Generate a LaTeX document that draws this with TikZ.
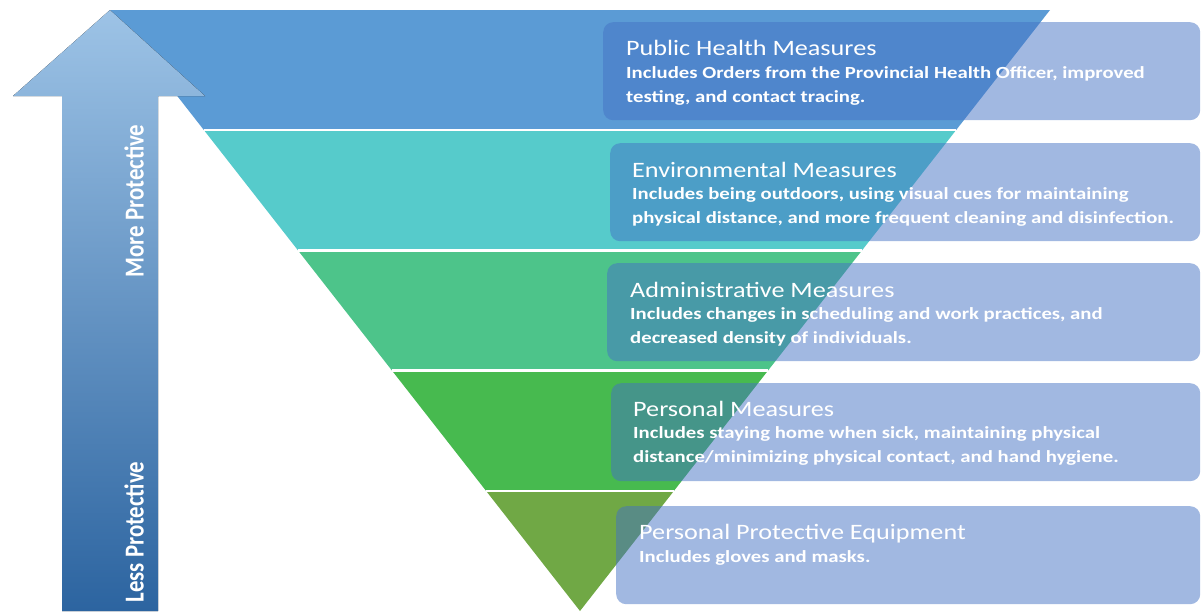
\documentclass[tikz,border=0pt]{standalone}
\usepackage{fontspec}
\setmainfont{Carlito}
\newfontfamily\headfont[FakeStretch=1.19]{Carlito}
\newfontfamily\detailfont[FakeStretch=1.22]{Carlito}
\usepackage{tikz}
\usetikzlibrary{calc}

\definecolor{band a}{HTML}{5B9BD5}
\definecolor{band b}{HTML}{56CBCB}
\definecolor{band c}{HTML}{4DC48A}
\definecolor{band d}{HTML}{47BA4F}
\definecolor{band e}{HTML}{70A845}
\definecolor{box blue}{HTML}{4472C4}

\tikzset{
  measure/.style={fill=box blue, fill opacity=0.5, rounded corners=10pt,
    anchor=north west, inner sep=0pt, minimum height=98pt},
  heading/.style={anchor=base west, inner sep=0pt, text=white,
    font=\headfont\fontsize{22}{26}\selectfont},
  detail/.style={anchor=base west, inner sep=0pt, text=white, align=left,
    font=\detailfont\bfseries\fontsize{17}{24}\selectfont},
  side/.style={text=white, xscale=1.2, rotate=90, inner sep=0pt,
    font=\bfseries\fontsize{22.8}{26}\selectfont},
  sep/.style={draw=white, line width=2.5pt}
}

\begin{document}
\begin{tikzpicture}[x=1pt,y=-1pt]
      \useasboundingbox (0,0) rectangle (1202,611);
      \coordinate (10 110) at (110,10);
      \coordinate (10 1050) at (1050,10);
      \coordinate (611 580) at (580,611);

      \fill [band a] (10 110) -- (10 1050) -- ($(10 1050)!0.2!(611 580)$) -- ($(10 110)!0.2!(611 580)$) -- cycle;
      \fill [band b] ($(10 110)!0.2!(611 580)$) -- ($(10 1050)!0.2!(611 580)$) -- ($(10 1050)!0.4!(611 580)$) -- ($(10 110)!0.4!(611 580)$) -- cycle;
      \fill [band c] ($(10 110)!0.4!(611 580)$) -- ($(10 1050)!0.4!(611 580)$) -- ($(10 1050)!0.6!(611 580)$) -- ($(10 110)!0.6!(611 580)$) -- cycle;
      \fill [band d] ($(10 110)!0.6!(611 580)$) -- ($(10 1050)!0.6!(611 580)$) -- ($(10 1050)!0.8!(611 580)$) -- ($(10 110)!0.8!(611 580)$) -- cycle;
      \fill [band e] ($(10 110)!0.8!(611 580)$) -- ($(10 1050)!0.8!(611 580)$) -- (611 580) -- cycle;
      \draw [sep] ($(10 110)!0.2!(611 580)$) -- ($(10 1050)!0.2!(611 580)$);
      \draw [sep] ($(10 110)!0.4!(611 580)$) -- ($(10 1050)!0.4!(611 580)$);
      \draw [sep] ($(10 110)!0.6!(611 580)$) -- ($(10 1050)!0.6!(611 580)$);
      \draw [sep] ($(10 110)!0.8!(611 580)$) -- ($(10 1050)!0.8!(611 580)$);

      \fill [top color={rgb,255:red,157;green,195;blue,230}, bottom color={rgb,255:red,44;green,100;blue,160}]
        (10 110) -- (205,96) -- (158,96) -- (158,611) -- (62,611) -- (62,96) -- (13,96) -- cycle;
      \node [side] (more) at (134,201) {More Protective};
      \node [side] (less) at (134,532) {Less Protective};

      \node [measure, minimum width=597pt] (22 603) at (603,22) {};
      \node [measure, minimum width=590pt] (143 610) at (610,143) {};
      \node [measure, minimum width=593pt] (263 607) at (607,263) {};
      \node [measure, minimum width=589pt] (383 611) at (611,383) {};
      \node [measure, minimum width=584pt] (506 616) at (616,506) {};

      \node [heading] (55 626) at ($(22 603.north west)+(23,33)$) {Public Health Measures};
      \node [detail] (102 626) at ($(55 626.base west)+(0,47)$) {Includes Orders from the Provincial Health Officer, improved\\testing, and contact tracing.};
      \node [heading] (177 632) at ($(143 610.north west)+(22,34)$) {Environmental Measures};
      \node [detail] (223 632) at ($(177 632.base west)+(0,46)$) {Includes being outdoors, using visual cues for maintaining\\physical distance, and more frequent cleaning and disinfection.};
      \node [heading] (297 630) at ($(263 607.north west)+(23,34)$) {Administrative Measures};
      \node [detail] (343 630) at ($(297 630.base west)+(0,46)$) {Includes changes in scheduling and work practices, and\\decreased density of individuals.};
      \node [heading] (416 633) at ($(383 611.north west)+(22,33)$) {Personal Measures};
      \node [detail] (462 633) at ($(416 633.base west)+(0,46)$) {Includes staying home when sick, maintaining physical\\distance/minimizing physical contact, and hand hygiene.};
      \node [heading] (539 639) at ($(506 616.north west)+(23,33)$) {Personal Protective Equipment};
      \node [detail] (562 639) at ($(539 639.base west)+(0,23)$) {Includes gloves and masks.};
    \end{tikzpicture}
\end{document}
